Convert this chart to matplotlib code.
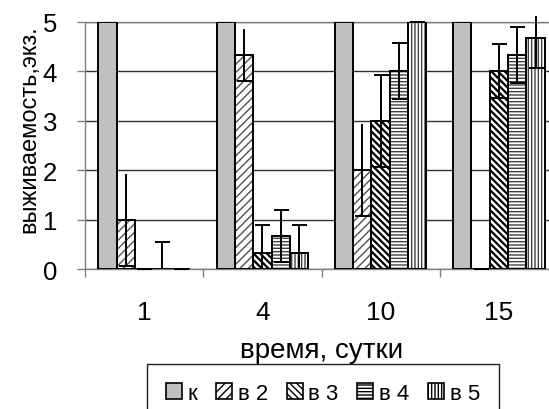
import matplotlib
matplotlib.use("Agg")
import matplotlib.pyplot as plt
import numpy as np
from matplotlib.patches import Patch
from matplotlib.transforms import Bbox, TransformedBbox

plt.rcParams['font.family'] = ['Liberation Sans', 'DejaVu Sans']
plt.rcParams['hatch.linewidth'] = 1.0

# survival by day, mean and error for each variant
days = ['1', '4', '10', '15']
names = ['к', 'в 2', 'в 3', 'в 4', 'в 5']
k_vals = [5, 5, 5, 5]
v2_vals = [1.0, 4.33, 2.0, 0]
v3_vals = [0, 0.33, 3.0, 4.0]
v4_vals = [0, 0.67, 4.0, 4.33]
v5_vals = [0, 0.33, 5.0, 4.67]
v2_err = [0.93, 0.52, 0.93, 0]
v3_err = [0, 0.55, 0.93, 0.54]
v4_err = [0.55, 0.52, 0.57, 0.56]
v5_err = [0, 0.55, 0, 0.6]

values = [k_vals, v2_vals, v3_vals, v4_vals, v5_vals]
errors = [None, v2_err, v3_err, v4_err, v5_err]
faces = ['#c0c0c0', 'white', 'white', 'white', 'white']
hatches = [None, '////', '\\\\\\\\\\', '-----', '|||||']
hatch_cols = [None, '#505050', '#000000', '#404040', '#404040']
hatch_lw = [1.0, 1.0, 1.6, 1.0, 1.0]

fig = plt.figure(figsize=(5.49, 4.10), dpi=100)
ax = fig.add_axes([85 / 549, 1 - 270 / 410, 473 / 549, 247.3 / 410])

x = np.arange(len(days))
w = 0.155
for i in range(5):
    pos = x + (i - 2) * w
    if hatches[i]:
        with plt.rc_context({'hatch.linewidth': hatch_lw[i]}):
            ax.bar(pos, values[i], w, color='white', edgecolor=hatch_cols[i],
                   hatch=hatches[i], linewidth=0, zorder=2)
        ax.bar(pos, values[i], w, fill=False, edgecolor='black',
               linewidth=1.4, zorder=3)
    else:
        ax.bar(pos, values[i], w, color=faces[i], edgecolor='black',
               linewidth=1.4, zorder=3)

# error bars are allowed to poke a little above the top gridline
clip = TransformedBbox(Bbox([[0, 0], [1, 1.025]]), ax.transAxes)
for i in range(1, 5):
    pos = x + (i - 2) * w
    eb = ax.errorbar(pos, values[i], yerr=errors[i], fmt='none', ecolor='black',
                     elinewidth=1.4, capsize=5.4, capthick=1.4, zorder=4)
    for art in list(eb[1]) + list(eb[2]):
        art.set_clip_box(clip)
    if i == 1:
        eb[1][1].set_visible(False)

ax.set_xlim(-0.5, 3.5)
ax.set_ylim(0, 5)
ax.set_yticks(range(6))
ax.yaxis.grid(True, color='#303030', linewidth=1.0)
ax.set_axisbelow(True)

ax.set_xticks(x)
ax.set_xticklabels(days)
ax.set_xticks(np.arange(-0.5, 4, 1), minor=True)
ax.tick_params(axis='x', which='major', length=0, pad=22, labelsize=19)
ax.tick_params(axis='x', which='minor', length=6, width=1, color='#808080', direction='out')
ax.tick_params(axis='y', length=6, width=1, color='#808080', pad=14, labelsize=18.5)

for side in ax.spines:
    ax.spines[side].set_color('#808080')
    ax.spines[side].set_linewidth(1.0)

ax.set_xlabel('время, сутки', fontsize=20, labelpad=10)
ax.set_ylabel('выживаемость,экз.', fontsize=17)
ax.yaxis.set_label_coords(-0.095, 0.57)

handles = []
for i in range(5):
    handles.append(Patch(facecolor=faces[i], edgecolor='black', hatch=hatches[i], linewidth=1.2))
ax.legend(handles, names, ncol=5, loc='upper left',
          bbox_to_anchor=(147 / 549, 1 - 365 / 410), bbox_transform=fig.transFigure,
          fontsize=16, frameon=True, fancybox=False, edgecolor='#202020',
          borderpad=0.85, borderaxespad=0, handlelength=0.72, handleheight=0.72,
          handletextpad=0.25, columnspacing=0.85, framealpha=1)

fig.savefig('out.png', dpi=100)
